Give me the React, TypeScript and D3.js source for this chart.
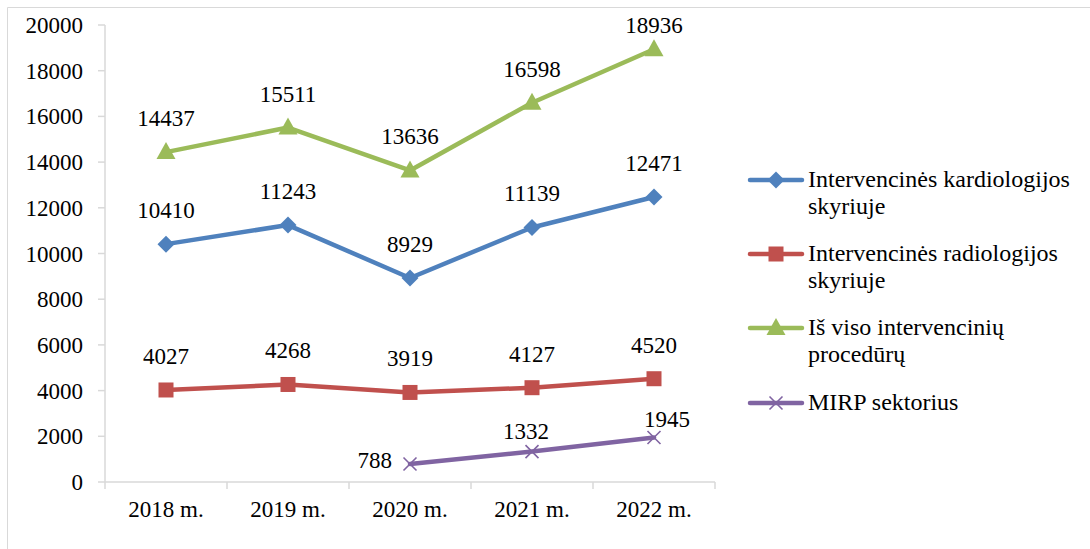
import React from "react";
import * as d3 from "d3";

const categories = ["2018 m.", "2019 m.", "2020 m.", "2021 m.", "2022 m."];
const kardiologija = [10410, 11243, 8929, 11139, 12471];
const radiologija = [4027, 4268, 3919, 4127, 4520];
const isViso = [14437, 15511, 13636, 16598, 18936];
const mirp: (number | null)[] = [null, null, 788, 1332, 1945];
const yTicks = [0, 2000, 4000, 6000, 8000, 10000, 12000, 14000, 16000, 18000, 20000];

const seriesNames = [
  ["Intervencinės kardiologijos", "skyriuje"],
  ["Intervencinės radiologijos", "skyriuje"],
  ["Iš viso intervencinių", "procedūrų"],
  ["MIRP sektorius"],
];

const colors = ["#4f81bd", "#c0504d", "#9bbb59", "#8064a2"];
const markers = ["diamond", "square", "triangle", "x"];

const W = 1090;
const H = 549;
const left = 105;
const right = 715;
const top = 25;
const bottom = 482;

function Marker({ type, x, y, color }: { type: string; x: number; y: number; color: string }) {
  if (type === "diamond") {
    const s = 8.5;
    return <path d={`M${x},${y - s}L${x + s},${y}L${x},${y + s}L${x - s},${y}Z`} fill={color} />;
  }
  if (type === "square") {
    const s = 7.5;
    return <rect x={x - s} y={y - s} width={2 * s} height={2 * s} fill={color} />;
  }
  if (type === "triangle") {
    return <path d={`M${x},${y - 10}L${x + 9.5},${y + 7}L${x - 9.5},${y + 7}Z`} fill={color} />;
  }
  const s = 6.5;
  return (
    <path d={`M${x - s},${y - s}L${x + s},${y + s}M${x + s},${y - s}L${x - s},${y + s}`} stroke={color} strokeWidth={1.6} />
  );
}

export default function App() {
  const x = d3.scaleBand<string>().domain(categories).range([left, right]);
  const y = d3.scaleLinear().domain([0, 20000]).range([bottom, top]);
  const cx = (c: string) => (x(c) as number) + x.bandwidth() / 2;

  const data: (number | null)[][] = [kardiologija, radiologija, isViso, mirp];
  const line = d3
    .line<[string, number | null]>()
    .defined((d) => d[1] != null)
    .x((d) => cx(d[0]))
    .y((d) => y(d[1] as number));

  const labelPos = (si: number, i: number, px: number, py: number) => {
    if (si === 3) {
      if (i === 2) return { x: px - 18, y: py + 4, anchor: "end" };
      if (i === 3) return { x: px - 6, y: py - 13, anchor: "middle" };
      return { x: px + 13, y: py - 11, anchor: "middle" };
    }
    if (si === 2 && i === 4) return { x: px, y: py - 16, anchor: "middle" };
    return { x: px, y: py - 26, anchor: "middle" };
  };

  const legendY = [180, 254, 328, 403];
  const num: React.CSSProperties = { fontFamily: '"Liberation Serif"', fontSize: 23 };
  const leg: React.CSSProperties = { fontFamily: '"Liberation Serif"', fontSize: 24 };

  return (
    <svg width={W} height={H} style={{ position: "absolute", left: 0, top: 0 }}>
      <rect x={0} y={0} width={W} height={H} fill="#fff" />
      <line x1={7.5} y1={7.5} x2={W} y2={7.5} stroke="#d9d9d9" strokeWidth={1} />
      <line x1={7.5} y1={7.5} x2={7.5} y2={H} stroke="#d9d9d9" strokeWidth={1} />

      <line x1={left} y1={top} x2={left} y2={bottom} stroke="#d9d9d9" strokeWidth={1.5} />
      {yTicks.map((t) => (
        <g key={t}>
          <line x1={left - 7} x2={left} y1={y(t)} y2={y(t)} stroke="#d9d9d9" strokeWidth={1.5} />
          <text x={83} y={y(t) + 8} textAnchor="end" fill="#000" style={num}>
            {t}
          </text>
        </g>
      ))}
      <line x1={left} y1={bottom} x2={right} y2={bottom} stroke="#d9d9d9" strokeWidth={1.5} />
      {[...categories.map((c) => x(c) as number), right].map((t, i) => (
        <line key={i} x1={t} x2={t} y1={bottom} y2={bottom + 7} stroke="#d9d9d9" strokeWidth={1.5} />
      ))}
      {categories.map((c) => (
        <text key={c} x={cx(c)} y={517} textAnchor="middle" fill="#000" style={num}>
          {c}
        </text>
      ))}

      {data.map((vals, si) => (
        <g key={si}>
          <path
            d={line(categories.map((c, i) => [c, vals[i]] as [string, number | null])) || ""}
            fill="none"
            stroke={colors[si]}
            strokeWidth={4.5}
            strokeLinejoin="round"
            strokeLinecap="round"
          />
          {categories.map((c, i) =>
            vals[i] == null ? null : (
              <Marker key={c} type={markers[si]} x={cx(c)} y={y(vals[i] as number)} color={colors[si]} />
            )
          )}
          {categories.map((c, i) => {
            if (vals[i] == null) return null;
            const p = labelPos(si, i, cx(c), y(vals[i] as number));
            return (
              <text key={"l" + c} x={p.x} y={p.y} textAnchor={p.anchor as any} fill="#000" style={num}>
                {vals[i]}
              </text>
            );
          })}
        </g>
      ))}

      {seriesNames.map((lines, si) => (
        <g key={si}>
          <line x1={750} x2={802} y1={legendY[si]} y2={legendY[si]} stroke={colors[si]} strokeWidth={4.5} strokeLinecap="round" />
          <Marker type={markers[si]} x={776} y={legendY[si]} color={colors[si]} />
          {lines.map((t, li) => (
            <text key={li} x={808} y={legendY[si] + 7 + li * 27} fill="#000" style={leg}>
              {t}
            </text>
          ))}
        </g>
      ))}
    </svg>
  );
}
